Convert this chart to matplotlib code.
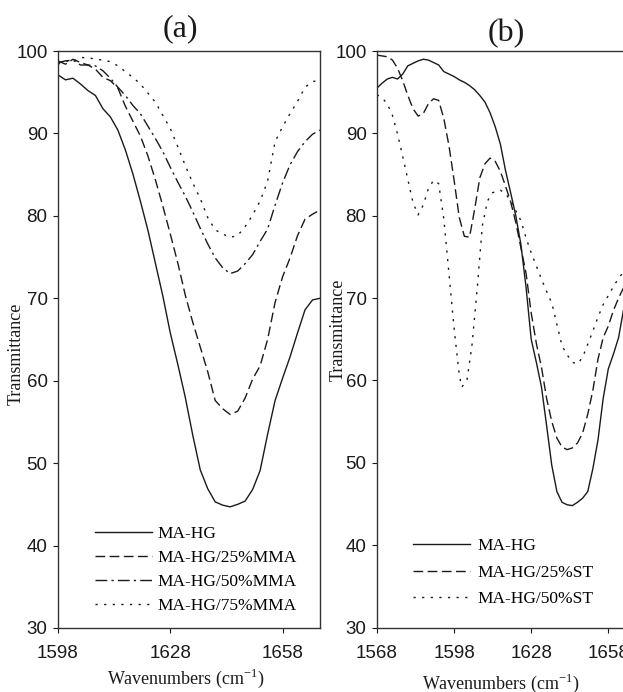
import matplotlib
matplotlib.use("Agg")
import matplotlib.pyplot as plt

# ---- Panel (a): MA-HG with MMA ----
wn_a = [1598, 1600, 1602, 1604, 1606, 1608, 1610, 1612, 1614, 1616, 1618, 1620,
        1622, 1624, 1626, 1628, 1630, 1632, 1634, 1636, 1638, 1640, 1642, 1644,
        1646, 1648, 1650, 1652, 1654, 1656, 1658, 1660, 1662, 1664, 1666, 1668]
a_mahg = [97.1, 96.5, 96.7, 96.0, 95.2, 94.6, 93.0, 92.0, 90.4, 88.0, 85.1, 81.8,
          78.3, 74.3, 70.3, 65.8, 62.0, 58.0, 53.4, 49.2, 46.9, 45.3, 44.9, 44.7,
          45.0, 45.4, 46.8, 49.1, 53.5, 57.6, 60.3, 62.9, 65.8, 68.6, 69.8, 70.0]
a_mma25 = [98.8, 98.4, 99.0, 98.6, 98.3, 97.8, 96.8, 96.4, 95.5, 93.3, 91.5, 89.7,
           87.3, 84.4, 81.2, 77.8, 74.3, 70.4, 67.1, 64.1, 61.1, 57.6, 56.6, 55.9,
           56.3, 57.9, 60.2, 61.8, 65.0, 69.5, 72.6, 74.9, 77.6, 79.6, 80.2, 80.7]
a_mma50 = [98.6, 98.8, 98.9, 98.3, 98.3, 98.2, 97.6, 96.7, 95.6, 94.6, 93.4, 92.4,
           90.9, 89.4, 87.8, 85.9, 84.1, 82.4, 80.5, 78.5, 76.6, 74.9, 73.7, 73.0,
           73.3, 74.2, 75.3, 76.9, 78.4, 81.3, 84.0, 86.2, 87.8, 89.0, 89.9, 90.4]
a_mma75 = [98.4, 98.8, 98.7, 99.2, 99.2, 99.0, 98.9, 98.7, 98.2, 97.5, 96.8, 96.0,
           94.9, 93.8, 92.2, 90.6, 88.4, 86.1, 84.0, 82.1, 79.8, 78.3, 77.8, 77.4,
           77.6, 78.7, 80.1, 81.8, 84.2, 89.0, 90.8, 92.4, 93.9, 95.6, 96.3, 96.4]
labels_a = ["MA-HG", "MA-HG/25%MMA", "MA-HG/50%MMA", "MA-HG/75%MMA"]

# ---- Panel (b): MA-HG with ST ----
wn_b = [1568, 1570, 1572, 1574, 1576, 1578, 1580, 1582, 1584, 1586, 1588, 1590,
        1592, 1594, 1596, 1598, 1600, 1602, 1604, 1606, 1608, 1610, 1612, 1614,
        1616, 1618, 1620, 1622, 1624, 1626, 1628, 1630, 1632, 1634, 1636, 1638,
        1640, 1642, 1644, 1646, 1648, 1650, 1652, 1654, 1656, 1658, 1660, 1662,
        1664, 1666, 1668]
b_mahg = [95.5, 96.1, 96.6, 96.8, 96.6, 97.2, 98.2, 98.5, 98.8, 99.0, 98.9, 98.6,
          98.3, 97.5, 97.2, 96.9, 96.5, 96.2, 95.8, 95.3, 94.6, 93.8, 92.5, 90.8,
          88.7, 85.5, 82.8, 80.0, 76.5, 71.3, 65.0, 62.2, 59.2, 54.5, 49.7, 46.5,
          45.2, 44.9, 44.8, 45.2, 45.7, 46.5, 49.3, 52.8, 57.8, 61.4, 63.2, 65.2,
          68.7, 71.5, 73.5]
b_st25 = [99.5, 99.4, 99.3, 98.9, 97.9, 96.4, 94.6, 93.0, 92.1, 92.4, 93.6, 94.2,
          94.0, 91.8, 88.5, 84.3, 79.8, 77.5, 77.4, 80.8, 84.6, 86.3, 87.0, 86.6,
          85.4, 83.6, 81.7, 79.2, 76.1, 73.0, 68.2, 64.5, 61.6, 57.8, 55.0, 53.0,
          51.9, 51.6, 51.8, 52.4, 53.6, 55.9, 58.8, 62.6, 65.2, 66.6, 68.5, 70.0,
          71.3, 72.5, 73.5]
wn_b_st50 = [1568, 1570, 1572, 1574, 1576, 1578, 1580, 1582, 1584, 1586, 1588, 1590,
             1592, 1594, 1596, 1598, 1600, 1601, 1603, 1605, 1607, 1609, 1611, 1613,
             1616, 1618, 1620, 1622, 1624, 1626, 1628, 1630, 1632, 1634, 1636, 1638,
             1640, 1642, 1644, 1646, 1648, 1650, 1652, 1654, 1656, 1658, 1660, 1662,
             1664, 1666, 1668]
b_st50 = [94.7, 94.3, 93.6, 92.2, 89.9, 87.2, 84.4, 81.6, 80.1, 81.3, 83.3, 84.3,
          83.9, 79.6, 73.0, 66.3, 60.7, 59.2, 60.0, 64.4, 71.2, 78.8, 81.8, 82.8,
          83.1, 82.7, 81.8, 80.6, 79.4, 77.3, 75.5, 73.9, 72.3, 70.8, 69.4, 66.8,
          64.2, 63.1, 62.2, 62.0, 62.8, 64.4, 66.0, 67.7, 69.2, 70.3, 71.4, 72.4,
          73.2, 73.8, 74.3]
labels_b = ["MA-HG", "MA-HG/25%ST", "MA-HG/50%ST"]

yticks = [30, 40, 50, 60, 70, 80, 90, 100]
xticks_a = [1598, 1628, 1658]
xticks_b = [1568, 1598, 1628, 1658]

INK = "#1a1a1a"
SERIF = "Liberation Serif"
SANS = "Liberation Sans"
styles = [
    dict(linestyle="-"),
    dict(linestyle=(0, (7, 3.2))),
    dict(linestyle=(0, (8.5, 3, 1.6, 3))),
    dict(linestyle=(0, (1.6, 4.6))),
]

W, H = 623, 692
fig = plt.figure(figsize=(W / 100, H / 100), dpi=100)
fig.patch.set_facecolor("white")


def px_axes(left, right, top, bottom):
    return fig.add_axes([left / W, 1 - bottom / H, (right - left) / W, (bottom - top) / H])


def style_axes(ax, xlim, xticks):
    ax.set_xlim(*xlim)
    ax.set_ylim(30, 100)
    ax.set_xticks(xticks)
    ax.set_yticks(yticks)
    ax.tick_params(direction="out", length=3.5, width=0.8, colors=INK,
                   labelsize=13.5, labelcolor=INK)
    ax.tick_params(axis="x", pad=9)
    ax.tick_params(axis="y", pad=4)
    for lab in ax.get_xticklabels() + ax.get_yticklabels():
        lab.set_fontfamily(SANS)
    for sp in ax.spines.values():
        sp.set_linewidth(1.0)
        sp.set_color("#333333")


ax_a = px_axes(58, 320, 51, 628)
for y, lab, st in zip([a_mahg, a_mma25, a_mma50, a_mma75], labels_a, styles):
    ax_a.plot(wn_a, y, color=INK, lw=1.0, label=lab, **st)
style_axes(ax_a, (1598, 1668), xticks_a)
ax_a.legend(loc="upper left", bbox_to_anchor=(95 / W, 1 - 526 / H),
            bbox_transform=fig.transFigure, frameon=False,
            prop=dict(family=SERIF, size=12.5), handlelength=3.3,
            handletextpad=0.3, labelspacing=0.45, borderpad=0, borderaxespad=0)

ax_b = px_axes(377, 634, 51, 627.5)
for x, y, lab, st in zip([wn_b, wn_b, wn_b_st50], [b_mahg, b_st25, b_st50],
                         labels_b, [styles[0], styles[1], styles[3]]):
    ax_b.plot(x, y, color=INK, lw=1.0, label=lab, **st)
style_axes(ax_b, (1568, 1668), xticks_b)
ax_b.legend(loc="upper left", bbox_to_anchor=(413 / W, 1 - 538 / H),
            bbox_transform=fig.transFigure, frameon=False,
            prop=dict(family=SERIF, size=12.5), handlelength=3.3,
            handletextpad=0.4, labelspacing=0.6, borderpad=0, borderaxespad=0)

# panel titles
fig.text(180 / W, 1 - 36 / H, "(a)", family=SERIF, size=23, color=INK,
         ha="center", va="baseline")
fig.text(506 / W, 1 - 41.5 / H, "(b)", family=SERIF, size=23, color=INK,
         ha="center", va="baseline")

# axis titles
fig.text(16 / W, 1 - 354 / H, "Transmittance", family=SERIF, size=13, color=INK,
         rotation=90, ha="center", va="center")
fig.text(338 / W, 1 - 329.5 / H, "Transmittance", family=SERIF, size=13, color=INK,
         rotation=90, ha="center", va="center")
fig.text(186 / W, 1 - 684 / H, "Wavenumbers (cm$^{\\mathregular{-1}}$)", family=SERIF,
         size=13, color=INK, ha="center", va="baseline")
fig.text(501 / W, 1 - 688.5 / H, "Wavenumbers (cm$^{\\mathregular{-1}}$)", family=SERIF,
         size=13, color=INK, ha="center", va="baseline")

fig.savefig("out.png", dpi=100, facecolor="white")
